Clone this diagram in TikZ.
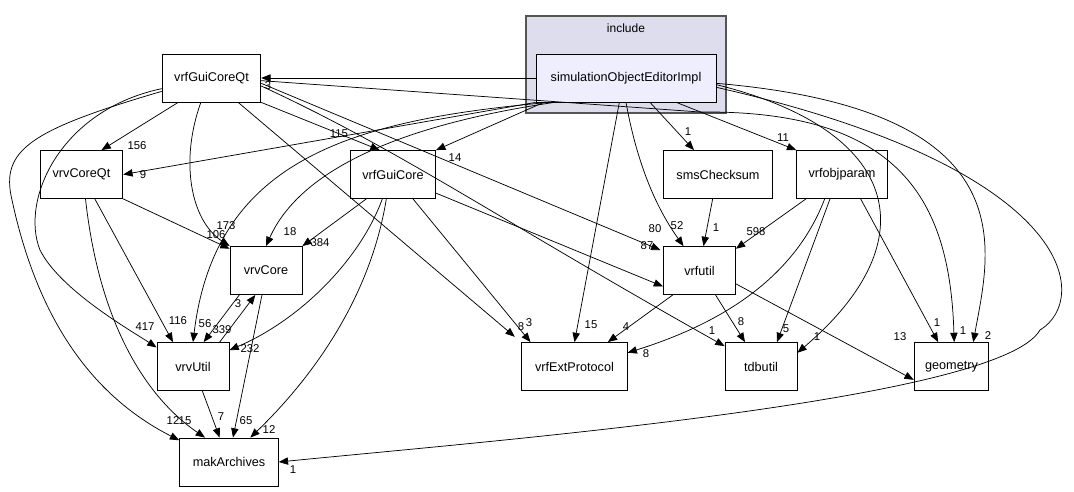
\documentclass[tikz,border=0pt]{standalone}
\usepackage{fontspec}
\setmainfont{Liberation Sans}
\usetikzlibrary{arrows.meta}
\definecolor{clusterfill}{HTML}{DDDDEE}
\definecolor{clusterline}{HTML}{555555}
\definecolor{simfill}{HTML}{EEEEFF}
\tikzset{
  dir/.style={draw, fill=white, line width=0.6pt, minimum height=36pt, inner sep=0pt, font=\fontsize{9.5}{11}\selectfont},
  dep/.style={-{Triangle[length=7pt,width=5.5pt]}, line width=0.55pt},
  lbl/.style={inner sep=0pt, font=\fontsize{8.5}{9}\selectfont}
}
\newcommand\lab[3]{\node[lbl] at (#1,#2) {#3};}
\begin{document}
\begin{tikzpicture}[x=0.75pt, y=-0.75pt]
      \useasboundingbox (0,0) rectangle (1074,492);

      % Cluster
      \draw[fill=clusterfill, draw=clusterline, line width=0.8pt] (526,16) rectangle (726,113);
      \node[font=\fontsize{9}{10}\selectfont] (title) at (626,28) {include};

      % Directories
      \node[dir, fill=simfill, minimum width=135pt] (sim)   at (626,78)   {simulationObjectEditorImpl};
      \node[dir, minimum width=74pt] (qt)       at (211.5,78)  {vrfGuiCoreQt};
      \node[dir, minimum width=62pt] (coreqt)   at (81.5,174.5) {vrvCoreQt};
      \node[dir, minimum width=64pt] (guicore)  at (393,174.5) {vrfGuiCore};
      \node[dir, minimum width=82pt] (sms)      at (718,174.5) {smsChecksum};
      \node[dir, minimum width=68pt] (objparam) at (842,174.5) {vrfobjparam};
      \node[dir, minimum width=54pt] (core)     at (266,270.5) {vrvCore};
      \node[dir, minimum width=54pt] (vutil)    at (699.5,270.5) {vrfutil};
      \node[dir, minimum width=54pt] (util)     at (193,366.5) {vrvUtil};
      \node[dir, minimum width=79pt] (ext)      at (574.5,366.5) {vrfExtProtocol};
      \node[dir, minimum width=54pt] (tdb)      at (761,366.5) {tdbutil};
      \node[dir, minimum width=56pt] (geo)      at (951.5,366.5) {geometry};
      \node[dir, minimum width=74pt] (mak)      at (229,462)   {makArchives};

      % simulationObjectEditorImpl
      \draw[dep] (sim.west) -- (qt.east);                                   \lab{268}{86}{3}
      \draw[dep] (sim.south west) -- (coreqt.east);                         \lab{143}{175}{9}
      \draw[dep] ([xshift=6pt]sim.south west) -- (guicore.north east);      \lab{455}{158}{14}
      \draw[dep] ([xshift=14pt]sim.south west) .. controls (400,125) and (300,170) .. (core.north); \lab{290}{232}{18}
      \draw[dep] ([xshift=10pt]sim.south west) .. controls (350,120) and (215,160) .. (util.north); \lab{205}{324}{56}
      \draw[dep] ([xshift=-5pt]sim.south) -- (ext.north);                   \lab{591}{325}{15}
      \draw[dep] (sim.south) .. controls (640,180) and (665,220) .. ([xshift=-12pt]vutil.north); \lab{677}{226}{52}
      \draw[dep] ([xshift=18pt]sim.south) -- ([xshift=-18pt]sms.north);     \lab{688}{132}{1}
      \draw[dep] ([xshift=-30pt]sim.south east) -- (objparam.north west);  \lab{783}{138}{11}
      \draw[dep] ([yshift=-5pt]sim.east) .. controls (900,130) and (930,240) .. ([yshift=-8pt]tdb.north east); \lab{817}{337}{1}
      \draw[dep] ([yshift=-4pt]sim.east) .. controls (1030,110) and (990,250) .. ([xshift=-12pt]geo.north east); \lab{988}{336}{2}
      \draw[dep] ([yshift=-7pt]sim.east) .. controls (1080,170) and (1090,300) .. (1040,330)
                 .. controls (1000,400) and (500,440) .. (mak.east);          \lab{293}{470}{1}

      % vrfGuiCoreQt
      \draw[dep] ([xshift=-25pt]qt.south) -- ([xshift=15pt]coreqt.north);  \lab{137}{146}{156}
      \draw[dep] ([xshift=-8pt]qt.south) .. controls (180,160) and (190,220) .. (core.north west); \lab{226}{226}{173}
      \draw[dep] (qt.south east) -- ([xshift=-10pt]guicore.north);          \lab{339}{134}{115}
      \draw[dep] ([xshift=20pt]qt.south) -- ([xshift=-5pt,yshift=4pt]ext.north west); \lab{521}{327}{8}
      \draw[dep] ([yshift=-6pt]qt.east) .. controls (400,150) and (500,220) .. ([yshift=-3pt]tdb.north west); \lab{712}{331}{1}
      \draw[dep] ([yshift=-4pt]qt.east) -- ([yshift=-3pt,xshift=-2pt]vutil.north west); \lab{655}{229}{80}
      \draw[dep] ([yshift=-2pt]qt.east) -- (700,112) .. controls (900,110) and (950,200) .. ([xshift=2pt]geo.north); \lab{963}{331}{1}
      \draw[dep] ([yshift=-8pt]qt.west) .. controls (60,110) and (20,200) .. (40,250)
                 .. controls (60,290) and (130,330) .. ([yshift=-4pt]util.north west); \lab{145}{327}{417}
      \draw[dep] ([yshift=-10pt]qt.west) .. controls (30,130) and (0,150) .. (12,200)
                 .. controls (40,330) and (100,400) .. ([yshift=-2pt]mak.north west); \lab{173}{421}{12}

      % vrvCoreQt
      \draw[dep] (coreqt.south east) -- ([yshift=-2pt]core.north west);     \lab{216}{235}{106}
      \draw[dep] ([xshift=10pt]coreqt.south) -- ([xshift=-15pt]util.north); \lab{178}{321}{116}
      \draw[dep] ([xshift=3pt]coreqt.south) .. controls (100,330) and (150,400) .. ([xshift=-18pt]mak.north); \lab{185}{421}{15}

      % vrfGuiCore
      \draw[dep] ([xshift=-20pt]guicore.south) -- (core.north east);        \lab{320}{243}{384}
      \draw[dep] ([xshift=-8pt]guicore.south) .. controls (360,260) and (300,320) .. ([yshift=-6pt]util.north east); \lab{250}{349}{232}
      \draw[dep] ([xshift=-5pt]guicore.south) .. controls (370,300) and (310,380) .. ([xshift=16pt]mak.north); \lab{269}{430}{12}
      \draw[dep] ([xshift=15pt]guicore.south) -- ([xshift=-33pt]ext.north); \lab{529}{323}{3}
      \draw[dep] ([yshift=-14pt]guicore.east) -- ([yshift=-12pt]vutil.west); \lab{647}{246}{87}

      % vrvCore and vrvUtil
      \draw[dep] ([xshift=-20pt]core.south) -- ([xshift=8pt]util.north);    \lab{222}{330}{339}
      \draw[dep] ([xshift=-3pt]core.south) -- ([xshift=3pt]mak.north);      \lab{246}{421}{65}
      \draw[dep] ([xshift=20pt]util.north) -- ([xshift=-8pt]core.south);    \lab{238}{304}{3}
      \draw[dep] ([xshift=7pt]util.south) -- ([xshift=-7pt]mak.north);      \lab{221}{417}{7}

      % smsChecksum, vrfobjparam, vrfutil
      \draw[dep] ([xshift=-4pt]sms.south) -- ([xshift=3pt]vutil.north);     \lab{716}{228}{1}
      \draw[dep] ([xshift=-27pt]objparam.south) -- ([yshift=-2pt]vutil.north east); \lab{756}{232}{598}
      \draw[dep] ([xshift=-13pt]objparam.south) .. controls (790,290) and (700,330) .. ([yshift=-8pt]ext.north east); \lab{646}{354}{8}
      \draw[dep] ([xshift=-9pt]objparam.south) -- ([xshift=12pt]tdb.north); \lab{786}{329}{5}
      \draw[dep] ([xshift=14pt]objparam.south) -- ([xshift=-10pt]geo.north); \lab{937}{323}{1}
      \draw[dep] ([xshift=-20pt]vutil.south) -- ([xshift=25pt]ext.north);   \lab{626}{327}{4}
      \draw[dep] ([xshift=12pt]vutil.south) -- ([xshift=-12pt]tdb.north);   \lab{741}{322}{8}
      \draw[dep] ([yshift=-10pt]vutil.east) -- ([yshift=-10pt]geo.west);    \lab{900}{337}{13}
\end{tikzpicture}
\end{document}
